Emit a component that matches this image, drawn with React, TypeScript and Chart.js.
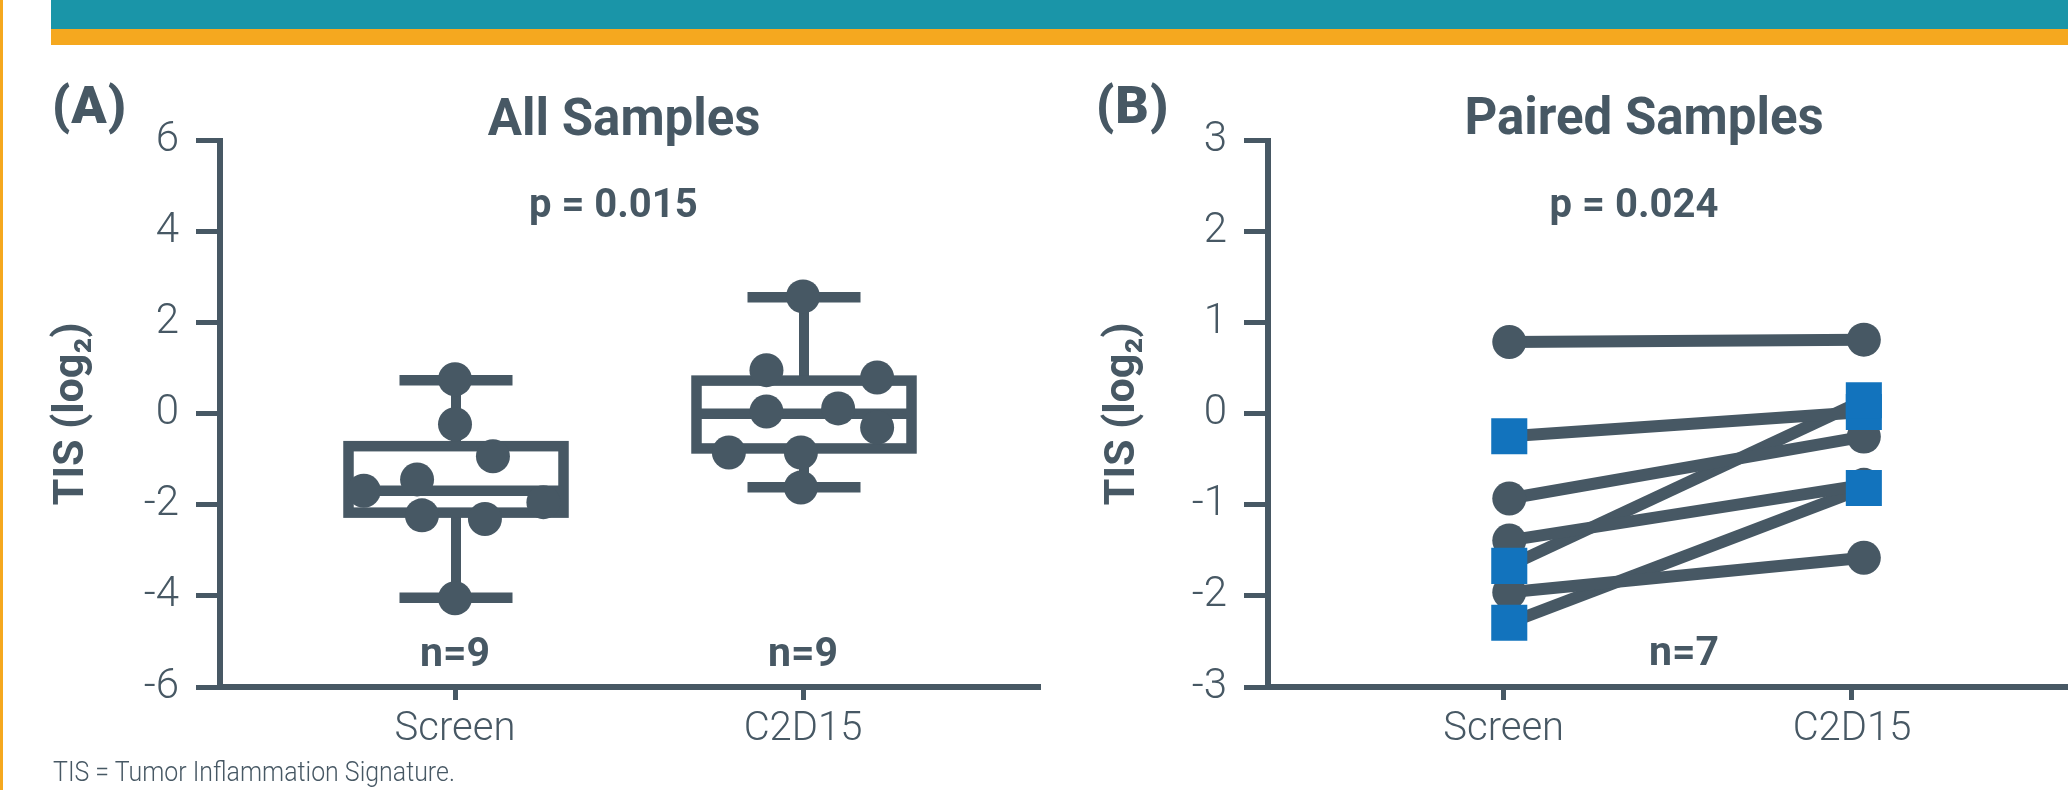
import React, { useEffect, useRef } from 'react';
import { Chart, registerables } from 'chart.js';

Chart.register(...registerables);

const SLATE = '#475864';
const BLUE = '#1273BD';
const TEAL = '#1A95A8';
const ORANGE = '#F5A81F';
const FONT = 'Roboto';

// ---------- shared categories ----------
const categories = ['Screen', 'C2D15'];

// ---------- Panel A: All Samples ----------
const screenValues = [0.76, -0.23, -0.93, -1.44, -1.69, -1.94, -2.23, -2.31, -4.05];
const screenX = [1.0, 1.0, 1.109, 0.891, 0.738, 1.254, 0.905, 1.086, 1.0];
const c2d15Values = [2.58, 0.96, 0.8, 0.05, 0.12, -0.3, -0.85, -0.85, -1.62];
const c2d15X = [2.0, 1.895, 2.213, 1.895, 2.101, 2.213, 1.787, 1.994, 1.994];

const boxMin = [-4.04, -1.61];
const boxQ1 = [-2.17, -0.76];
const boxMedian = [-1.69, 0.0];
const boxQ3 = [-0.71, 0.73];
const boxMax = [0.74, 2.56];

const yTicksA = [-6, -4, -2, 0, 2, 4, 6];
const countsA = ['n=9', 'n=9'];

// ---------- Panel B: Paired Samples ----------
const pairedScreen = [0.79, -0.245, -0.93, -1.39, -1.67, -1.96, -2.295];
const pairedC2D15 = [0.815, 0.02, -0.25, -0.78, 0.15, -1.58, -0.815];
const pairedShape = ['circle', 'rect', 'circle', 'circle', 'rect', 'circle', 'rect'];
const pairedTimeX = [1.016, 2.034];
const yTicksB = [-3, -2, -1, 0, 1, 2, 3];
const countB = 'n=7';

const yTitle = 'TIS (log\u2082)';

type TextItem = { text: string; x: number; y: number; size: number; weight: string };

const textsA: TextItem[] = [
  { text: 'All Samples', x: 1.486, y: 6.13, size: 51, weight: 'bold' },
  { text: 'p = 0.015', x: 1.455, y: 4.33, size: 40, weight: 'bold' },
  { text: countsA[0], x: 1, y: -5.54, size: 41, weight: 'bold' },
  { text: countsA[1], x: 2, y: -5.54, size: 41, weight: 'bold' },
];

const textsB: TextItem[] = [
  { text: 'Paired Samples', x: 1.403, y: 3.07, size: 51, weight: 'bold' },
  { text: 'p = 0.024', x: 1.374, y: 2.16, size: 40, weight: 'bold' },
  { text: countB, x: 1.518, y: -2.76, size: 41, weight: 'bold' },
];

const makeTextPlugin = (items: TextItem[]) => ({
  id: 'panelText',
  afterDraw(chart: any) {
    const { ctx, scales } = chart;
    ctx.save();
    ctx.fillStyle = SLATE;
    ctx.textAlign = 'center';
    ctx.textBaseline = 'alphabetic';
    items.forEach((it) => {
      ctx.font = `${it.weight} ${it.size}px ${FONT}`;
      ctx.fillText(it.text, scales.x.getPixelForValue(it.x), scales.y.getPixelForValue(it.y));
    });
    ctx.restore();
  },
});

const boxPlugin = {
  id: 'boxWhisker',
  beforeDatasetsDraw(chart: any) {
    const { ctx, scales } = chart;
    const x = scales.x;
    const y = scales.y;
    const BOX_W = 215;
    const CAP_W = 113;
    ctx.save();
    ctx.strokeStyle = SLATE;
    ctx.lineCap = 'butt';
    ctx.lineJoin = 'miter';
    categories.forEach((_, i) => {
      const cx = x.getPixelForValue(i + 1) + 1;
      const pMin = y.getPixelForValue(boxMin[i]);
      const pQ1 = y.getPixelForValue(boxQ1[i]);
      const pMed = y.getPixelForValue(boxMedian[i]);
      const pQ3 = y.getPixelForValue(boxQ3[i]);
      const pMax = y.getPixelForValue(boxMax[i]);
      ctx.lineWidth = 10;
      ctx.beginPath();
      ctx.moveTo(cx, pMax);
      ctx.lineTo(cx, pQ3);
      ctx.moveTo(cx, pQ1);
      ctx.lineTo(cx, pMin);
      ctx.stroke();
      ctx.lineWidth = 10.5;
      ctx.beginPath();
      ctx.moveTo(cx - CAP_W / 2, pMax);
      ctx.lineTo(cx + CAP_W / 2, pMax);
      ctx.moveTo(cx - CAP_W / 2, pMin);
      ctx.lineTo(cx + CAP_W / 2, pMin);
      ctx.stroke();
      ctx.strokeRect(cx - BOX_W / 2, pQ3, BOX_W, pQ1 - pQ3);
      ctx.beginPath();
      ctx.moveTo(cx - BOX_W / 2, pMed);
      ctx.lineTo(cx + BOX_W / 2, pMed);
      ctx.stroke();
    });
    ctx.restore();
  },
};

const xScale = (min: number, max: number) => ({
  type: 'linear',
  min,
  max,
  bounds: 'data',
  afterBuildTicks: (s: any) => {
    s.ticks = categories.map((_, i) => ({ value: i + 1 }));
  },
  afterFit: (s: any) => {
    s.height = 103;
  },
  ticks: {
    callback: (_v: any, i: number) => categories[i],
    font: { family: FONT, size: 40, weight: '300' },
    color: SLATE,
    padding: 6,
    autoSkip: false,
    maxRotation: 0,
  },
  grid: { drawOnChartArea: false, drawTicks: true, tickLength: 13, tickWidth: 5, tickColor: SLATE, color: SLATE },
  border: { display: true, width: 6, color: SLATE },
});

const yScale = (ticks: number[], width: number, titlePad: number) => ({
  type: 'linear',
  min: ticks[0],
  max: ticks[ticks.length - 1],
  afterBuildTicks: (s: any) => {
    s.ticks = ticks.map((v) => ({ value: v }));
  },
  afterFit: (s: any) => {
    s.width = width;
  },
  ticks: {
    font: { family: FONT, size: 42, weight: '300' },
    color: SLATE,
    padding: 17,
  },
  grid: { drawOnChartArea: false, drawTicks: true, tickLength: 24, tickWidth: 5, tickColor: SLATE, color: SLATE },
  border: { display: true, width: 6, color: SLATE },
  title: {
    display: true,
    text: yTitle,
    font: { family: FONT, size: 43, weight: 'bold' },
    color: SLATE,
    padding: { top: titlePad, bottom: 0 },
  },
});

const CANVAS_H = 745;
const PAD_R = 60;

function PanelA() {
  const ref = useRef<HTMLCanvasElement>(null);
  useEffect(() => {
    const chart = new Chart(ref.current as HTMLCanvasElement, {
      type: 'scatter',
      data: {
        datasets: [
          {
            data: screenValues.map((v, i) => ({ x: screenX[i], y: v })),
            pointRadius: 17,
            pointHoverRadius: 17,
            backgroundColor: SLATE,
            pointBackgroundColor: SLATE,
            borderWidth: 0,
            pointBorderWidth: 0,
          },
          {
            data: c2d15Values.map((v, i) => ({ x: c2d15X[i], y: v })),
            pointRadius: 17,
            pointHoverRadius: 17,
            backgroundColor: SLATE,
            pointBackgroundColor: SLATE,
            borderWidth: 0,
            pointBorderWidth: 0,
          },
        ],
      } as any,
      options: {
        responsive: false,
        animation: false,
        devicePixelRatio: 1,
        events: [],
        layout: { padding: { top: 95.7, left: 0, right: PAD_R, bottom: 0 } },
        plugins: { legend: { display: false }, tooltip: { enabled: false } },
        scales: {
          x: xScale(1 - 235 / 348, 2 + 237 / 348),
          y: yScale(yTicksA, 220, 46),
        } as any,
      },
      plugins: [boxPlugin, makeTextPlugin(textsA)],
    });
    return () => chart.destroy();
  }, []);
  return (
    <canvas
      ref={ref}
      width={1040 + PAD_R}
      height={CANVAS_H}
      style={{ position: 'absolute', left: 0, top: 45, width: 1040 + PAD_R, height: CANVAS_H }}
    />
  );
}

function PanelB() {
  const ref = useRef<HTMLCanvasElement>(null);
  useEffect(() => {
    const lineSets = pairedScreen.map((v, i) => ({
      data: [
        { x: pairedTimeX[0], y: v },
        { x: pairedTimeX[1], y: pairedC2D15[i] },
      ],
      showLine: true,
      borderColor: SLATE,
      borderWidth: 12,
      borderCapStyle: 'butt',
      pointRadius: 0,
      pointHoverRadius: 0,
      order: 2,
    }));
    const markerSet = (shape: string, color: string, radius: number, order: number) => {
      const pts: { x: number; y: number }[] = [];
      pairedScreen.forEach((v, i) => {
        if (pairedShape[i] === shape) {
          pts.push({ x: pairedTimeX[0], y: v });
          pts.push({ x: pairedTimeX[1], y: pairedC2D15[i] });
        }
      });
      return {
        data: pts,
        pointStyle: shape,
        pointRadius: radius,
        pointHoverRadius: radius,
        backgroundColor: color,
        pointBackgroundColor: color,
        borderWidth: 0,
        pointBorderWidth: 0,
        showLine: false,
        order,
      };
    };
    const chart = new Chart(ref.current as HTMLCanvasElement, {
      type: 'scatter',
      data: {
        datasets: [...lineSets, markerSet('circle', SLATE, 17, 1), markerSet('rect', BLUE, 25.5, 0)],
      } as any,
      options: {
        responsive: false,
        animation: false,
        devicePixelRatio: 1,
        events: [],
        layout: { padding: { top: 95.7, left: 0, right: PAD_R, bottom: 0 } },
        plugins: { legend: { display: false }, tooltip: { enabled: false } },
        scales: {
          x: xScale(1 - 235.7 / 348.3, 2 + 216 / 348.3),
          y: yScale(yTicksB, 218, 47),
        } as any,
      },
      plugins: [makeTextPlugin(textsB)],
    });
    return () => chart.destroy();
  }, []);
  return (
    <canvas
      ref={ref}
      width={1018 + PAD_R}
      height={CANVAS_H}
      style={{ position: 'absolute', left: 1050, top: 45, width: 1018 + PAD_R, height: CANVAS_H }}
    />
  );
}

const panelLabel: React.CSSProperties = {
  position: 'absolute',
  top: 80,
  fontFamily: FONT,
  fontWeight: 900,
  fontSize: 52,
  lineHeight: '52px',
  letterSpacing: 1,
  color: SLATE,
  whiteSpace: 'nowrap',
};

export default function App() {
  return (
    <div
      style={{
        position: 'absolute',
        left: 0,
        top: 0,
        width: 2068,
        height: 790,
        background: '#ffffff',
        overflow: 'hidden',
      }}
    >
      <PanelA />
      <PanelB />
      <div style={{ position: 'absolute', left: 0, top: 0, width: 3, height: 790, background: ORANGE }} />
      <div style={{ position: 'absolute', left: 51, top: 0, width: 2017, height: 29, background: TEAL }} />
      <div style={{ position: 'absolute', left: 51, top: 29, width: 2017, height: 16, background: ORANGE }} />
      <div style={{ ...panelLabel, left: 52 }}>(A)</div>
      <div style={{ ...panelLabel, left: 1096 }}>(B)</div>
      <div
        style={{
          position: 'absolute',
          left: 53,
          top: 758,
          fontFamily: FONT,
          fontWeight: 300,
          fontSize: 28,
          lineHeight: '28px',
          color: SLATE,
          whiteSpace: 'nowrap',
          transform: 'scaleX(0.89)',
          transformOrigin: 'left top',
        }}
      >
        TIS = Tumor Inflammation Signature.
      </div>
    </div>
  );
}
